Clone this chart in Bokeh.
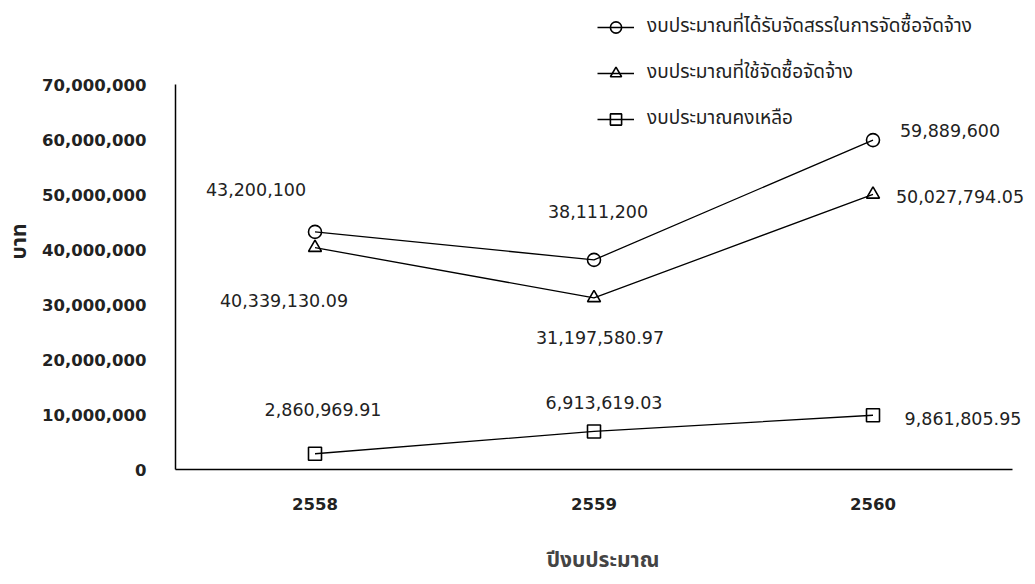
from bokeh.plotting import figure
from bokeh.models import (Range1d, FixedTicker, NumeralTickFormatter,
                          Legend, LegendItem, ColumnDataSource, Title)
from bokeh.core.properties import value
from bokeh.embed import file_html
from bokeh.resources import INLINE

years = ["2558", "2559", "2560"]
allocated = [43200100, 38111200, 59889600]
used = [40339130.09, 31197580.97, 50027794.05]
remaining = [2860969.91, 6913619.03, 9861805.95]

allocated_lbl = ["43,200,100", "38,111,200", "59,889,600"]
used_lbl = ["40,339,130.09", "31,197,580.97", "50,027,794.05"]
remaining_lbl = ["2,860,969.91", "6,913,619.03", "9,861,805.95"]

y_ticks = [0, 10000000, 20000000, 30000000, 40000000, 50000000, 60000000, 70000000]

names = ["งบประมาณที่ได้รับจัดสรรในการจัดซื้อจัดจ้าง",
         "งบประมาณที่ใช้จัดซื้อจัดจ้าง",
         "งบประมาณคงเหลือ"]
x_title = "ปีงบประมาณ"
y_title = "บาท"

THAI = "Tahoma, 'Noto Sans Thai', 'Loma', 'Garuda', 'Noto Sans', sans-serif"
NUM = "'DejaVu Sans', Tahoma, sans-serif"
BOLD = "'DejaVu Sans', Tahoma, sans-serif"

# layout (pixels)
LEFT, RIGHT, TOP, BOTTOM = 175, 0, 4, 113
W, H = 1030, 582
frame_w = W - LEFT - RIGHT
frame_h = H - TOP - BOTTOM
px_per_cat = 279.0
px_per_m = 5.5
x_end = frame_w / px_per_cat
y_end = frame_h / px_per_m * 1e6

# category centres on a numeric axis (one unit per category)
xpos = [i + 0.5 for i in range(len(years))]

p = figure(width=W, height=H, output_backend="svg", toolbar_location=None,
           x_range=Range1d(0, x_end), y_range=Range1d(0, y_end),
           min_border_left=LEFT, min_border_right=RIGHT, min_border_top=TOP,
           min_border_bottom=BOTTOM)
p.outline_line_color = None
p.xgrid.grid_line_color = None
p.ygrid.grid_line_color = None

series = [
    (allocated, allocated_lbl, "circle", [(-59, -42), (4, -48), (77, -10)]),
    (used, used_lbl, "triangle", [(-31, 53), (6, 40), (87, 2)]),
    (remaining, remaining_lbl, "square", [(8, -44), (10, -29), (90, 3)]),
]

items = []
for (vals, lbls, marker, offs), name in zip(series, names):
    src = ColumnDataSource(dict(x=xpos, y=vals, t=lbls,
                                dx=[o[0] for o in offs], dy=[o[1] for o in offs]))
    ln = p.line("x", "y", source=src, line_color="black", line_width=1.3)
    sc = p.scatter("x", "y", source=src, marker=marker, size=13,
                   line_color="black", line_width=1.6, fill_alpha=0)
    p.text("x", "y", text="t", source=src, x_offset="dx", y_offset="dy",
           text_align="center", text_baseline="middle",
           text_font=value(NUM), text_font_size="17.5px", text_color="#222222")
    items.append(LegendItem(label=name, renderers=[ln, sc]))

legend = Legend(items=items, location=(422, 336), padding=0, margin=0,
                spacing=17, glyph_width=37, glyph_height=28, label_height=28,
                label_standoff=13,
                label_text_font=THAI, label_text_font_size="19px",
                label_text_color="#222222", border_line_color=None,
                background_fill_alpha=0)
p.add_layout(legend)

for ax in (p.xaxis, p.yaxis):
    ax.major_tick_line_color = None
    ax.minor_tick_line_color = None
    ax.major_tick_out = 0
    ax.major_tick_in = 0
    ax.minor_tick_out = 0
    ax.minor_tick_in = 0
    ax.major_label_text_font = BOLD
    ax.major_label_text_font_style = "bold"
    ax.major_label_text_font_size = "16.5px"
    ax.major_label_text_color = "#222222"
    ax.axis_line_color = "black"
    ax.axis_line_width = 1.5

p.yaxis.ticker = FixedTicker(ticks=y_ticks)
p.yaxis.formatter = NumeralTickFormatter(format="0,0")
p.yaxis.bounds = (0, 70e6)
p.yaxis.major_label_standoff = 29

p.xaxis.ticker = FixedTicker(ticks=xpos)
p.xaxis.major_label_overrides = {x: yr for x, yr in zip(xpos, years)}
p.xaxis.bounds = (0, len(years))
p.xaxis.major_label_standoff = 28
p.xaxis.axis_label = x_title
p.xaxis.axis_label_text_font = THAI
p.xaxis.axis_label_text_font_style = "bold"
p.xaxis.axis_label_text_font_size = "21px"
p.xaxis.axis_label_standoff = 32

ytitle = Title(text=y_title, align="left", offset=210, vertical_align="top",
               standoff=6, text_font=THAI, text_font_style="bold",
               text_font_size="21px", text_color="#222222")
p.add_layout(ytitle, "left")

open("out.html", "w").write(file_html(p, INLINE))
